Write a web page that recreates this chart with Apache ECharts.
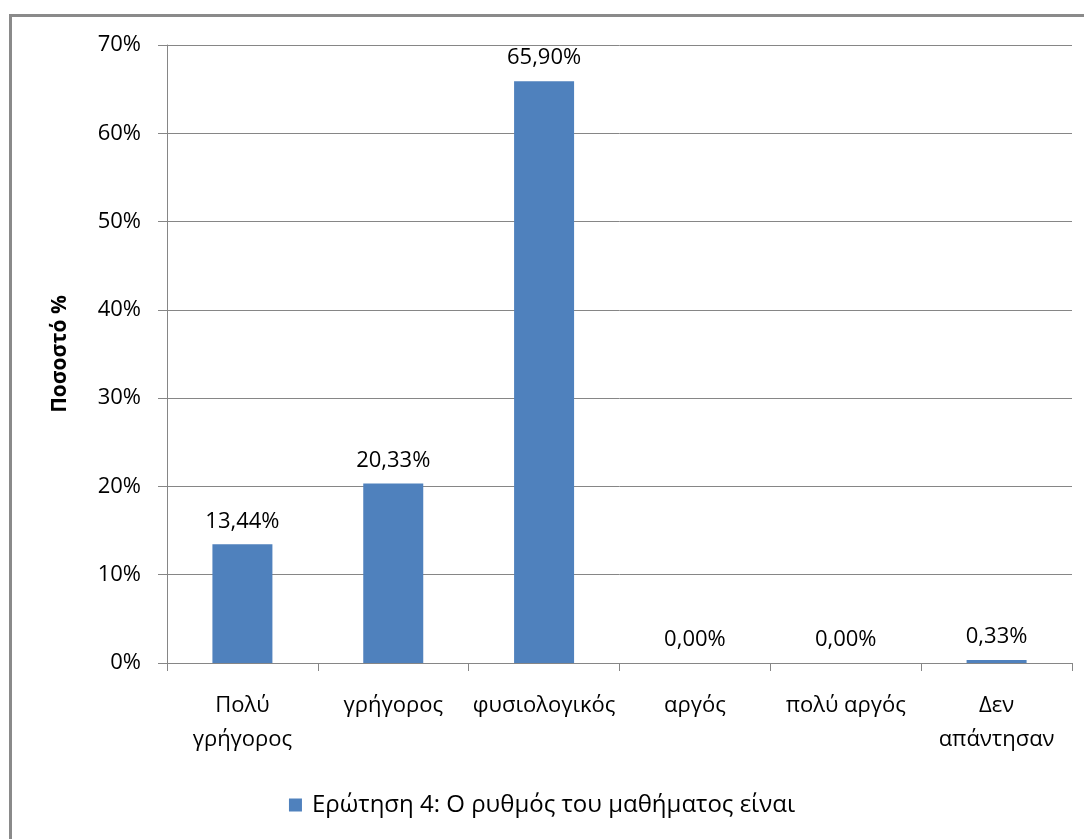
<!DOCTYPE html>
<html>
<head>
<meta charset="utf-8">
<script src="https://cdn.jsdelivr.net/npm/echarts@6/dist/echarts.min.js"></script>
<style>
  html, body { margin: 0; padding: 0; background: #fff; overflow: hidden; }
  #frame {
    position: absolute; left: 9px; top: 14px; width: 1200px; height: 1000px;
    border-left: 3px solid #8a8a8a; border-top: 3px solid #8a8a8a;
  }
  #main { position: absolute; left: 0; top: 0; width: 1084px; height: 839px; }
</style>
</head>
<body>
<div id="frame"></div>
<div id="main"></div>
<script>
// κατηγορίες και τιμές (ποσοστά)
const categories = ['Πολύ\nγρήγορος', 'γρήγορος', 'φυσιολογικός', 'αργός', 'πολύ αργός', 'Δεν\nαπάντησαν'];
const values = [13.44, 20.33, 65.90, 0.00, 0.00, 0.33];
const seriesName = 'Ερώτηση 4: Ο ρυθμός του μαθήματος είναι';
const yTicks = [0, 10, 20, 30, 40, 50, 60, 70];

const font = "'Open Sans', 'Noto Sans', sans-serif";
const chart = echarts.init(document.getElementById('main'));

const option = {
  animation: false,
  textStyle: { fontFamily: font },
  grid: { left: 167, right: 12, top: 45, bottom: 176, containLabel: false },
  legend: {
    bottom: 17,
    left: 'center',
    itemWidth: 13,
    itemHeight: 13,
    itemGap: 10,
    icon: 'rect',
    textStyle: { fontSize: 24, color: '#000', fontFamily: font, padding: [0, 0, 0, 5] },
    data: [seriesName]
  },
  xAxis: {
    type: 'category',
    data: categories,
    boundaryGap: true,
    axisLine: { lineStyle: { color: '#868686', width: 1 } },
    axisTick: { show: true, length: 8, lineStyle: { color: '#868686' } },
    axisLabel: {
      color: '#000', fontSize: 22, lineHeight: 34, margin: 26,
      fontFamily: font, interval: 0
    }
  },
  yAxis: {
    type: 'value',
    min: yTicks[0],
    max: yTicks[yTicks.length - 1],
    interval: 10,
    name: 'Ποσοστό %',
    nameLocation: 'middle',
    nameGap: 96,
    nameRotate: 90,
    nameTextStyle: { color: '#000', fontSize: 21, fontWeight: 'bold', fontFamily: font },
    axisLine: { show: true, lineStyle: { color: '#868686' } },
    axisTick: { show: true, length: 9, lineStyle: { color: '#868686' } },
    splitLine: { lineStyle: { color: '#868686', width: 1 } },
    axisLabel: {
      color: '#000', fontSize: 22, margin: 26, fontFamily: font,
      formatter: v => v + '%'
    }
  },
  series: [{
    name: seriesName,
    type: 'bar',
    data: values,
    barWidth: 60,
    itemStyle: { color: '#4f81bd' },
    label: {
      show: true,
      position: 'top',
      distance: 12,
      color: '#000',
      fontSize: 22,
      fontFamily: font,
      formatter: p => p.value.toFixed(2).replace('.', ',') + '%'
    }
  }]
};

chart.setOption(option);
</script>
</body>
</html>
